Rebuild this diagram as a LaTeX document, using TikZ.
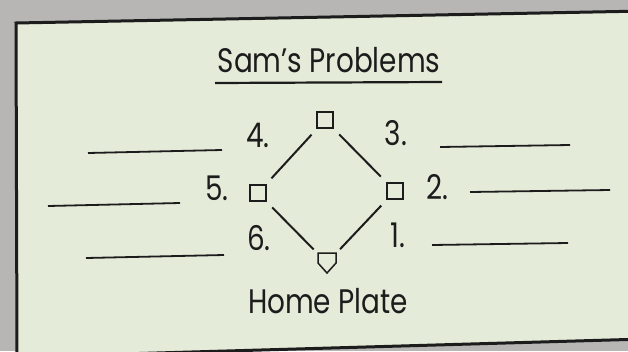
\documentclass[tikz,border=0pt]{standalone}
\usepackage{fontspec}
\setmainfont{Poppins}[FakeStretch=0.82]
\usetikzlibrary{calc}
\definecolor{paper}{HTML}{E4EBD9}
\definecolor{backdrop}{HTML}{B8B6B5}
\definecolor{ink}{HTML}{1C1C1C}
\tikzset{
  base/.style     = {draw=ink, line width=1.5pt, minimum size=16pt, inner sep=0pt},
  numlabel/.style = {text=ink, anchor=base, inner sep=0pt, font=\fontsize{34}{40}\selectfont},
  blank/.style    = {draw=ink, line width=1.8pt},
  baseedge/.style = {draw=ink, line width=2pt, shorten <=8pt, shorten >=8pt}
}

\begin{document}
\begin{tikzpicture}[x=1pt, y=-1pt]
  \useasboundingbox (0,0) rectangle (628,351);
  \clip (0,0) rectangle (628,351);
  \fill[backdrop] (0,0) rectangle (628,351);
  \filldraw[fill=paper, draw=ink, line width=3pt] (16,23) -- (645,11) -- (645,339) -- (17,357) -- cycle;

  % title
  \node[numlabel] (title) at (329,72) {Sam's Problems};
  \draw[blank, line width=2.2pt] (215,83) -- (442,82);

  % bases
  \node[base] (second) at (325,120) {};
  \node[base] (third)  at (258,193) {};
  \node[base] (first)  at (395,191) {};
  \coordinate (home) at (327,263);
  \draw[ink, line width=1.5pt] ($(home)+(-9,-10)$) -- ($(home)+(9,-10)$) -- ($(home)+(9,0)$)
    -- ($(home)+(0,10)$) -- ($(home)+(-9,0)$) -- cycle;

  % diamond
  \draw[baseedge] (second) -- (first);
  \draw[baseedge] (third) -- (second);
  \draw[baseedge, shorten >=19pt] (third) -- (home);
  \draw[baseedge, shorten >=19pt] (first) -- (home);

  % positions
  \node[numlabel] (p4) at (258,147) {4.};
  \node[numlabel] (p3) at (396,145) {3.};
  \node[numlabel] (p5) at (217,200) {5.};
  \node[numlabel] (p2) at (437,199) {2.};
  \node[numlabel] (p6) at (259,250) {6.};
  \node[numlabel] (p1) at (398,247) {1.};
  \node[numlabel] (plate) at (328,313) {Home Plate};

  % answer blanks
  \draw[blank] (88,153) -- (222,150);
  \draw[blank] (48,206) -- (180,203);
  \draw[blank] (86,258) -- (224,255);
  \draw[blank] (440,147) -- (570,145);
  \draw[blank] (470,192) -- (610,190);
  \draw[blank] (432,245) -- (568,243);
\end{tikzpicture}
\end{document}
